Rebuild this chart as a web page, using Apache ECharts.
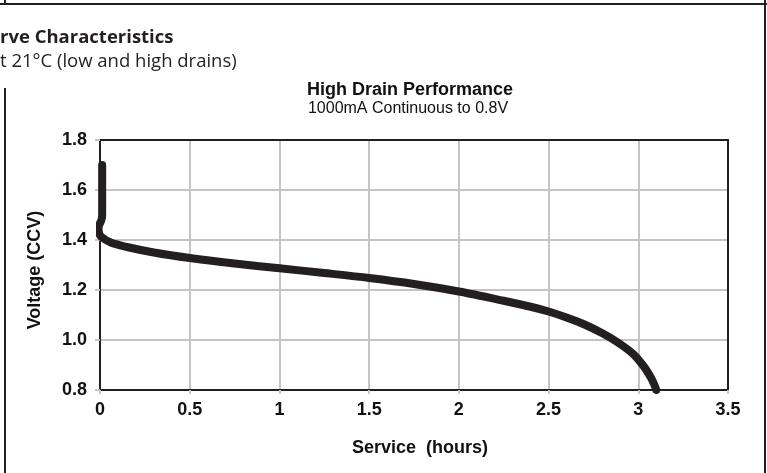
<!DOCTYPE html>
<html>
<head>
<meta charset="utf-8">
<script src="https://cdn.jsdelivr.net/npm/echarts@6/dist/echarts.min.js"></script>
<style>
html,body{margin:0;padding:0;background:#fff;}
#chart{width:767px;height:473px;}
</style>
</head>
<body>
<div id="chart"></div>
<script>
// ---- data ----
const pageHeading = 'rve Characteristics';
const pageSubheading = 't 21°C (low and high drains)';
const chartTitle = 'High Drain Performance';
const chartSubtitle = '1000mA Continuous to 0.8V';
const xAxisName = 'Service  (hours)';
const yAxisName = 'Voltage (CCV)';
const xTicks = [0, 0.5, 1, 1.5, 2, 2.5, 3, 3.5];
const yTicks = [0.8, 1.0, 1.2, 1.4, 1.6, 1.8];
const hours = [0.012, 0.012, 0.012, 0.008, -0.008, -0.006, 0.005, 0.06, 0.15, 0.3, 0.5, 0.75, 1.0, 1.25, 1.5, 1.75, 2.0, 2.25, 2.4, 2.5, 2.6, 2.7, 2.8, 2.88, 2.97, 3.03, 3.07, 3.09, 3.1];
const volts = [1.70, 1.60, 1.50, 1.48, 1.45, 1.43, 1.414, 1.39, 1.372, 1.35, 1.328, 1.306, 1.287, 1.268, 1.248, 1.224, 1.194, 1.157, 1.133, 1.114, 1.09, 1.062, 1.027, 0.993, 0.945, 0.895, 0.85, 0.82, 0.80];

const seriesData = hours.map((h, i) => [h, volts[i]]);
const ink = '#231f20';
const gridGray = '#c4c4c4';
const tickFmt = v => {
  const t = xTicks.find(x => Math.abs(x - v) < 1e-9);
  return t === undefined ? '' : String(t);
};
const yFmt = v => {
  const t = yTicks.find(x => Math.abs(x - v) < 1e-9);
  return t === undefined ? '' : t.toFixed(1);
};

const chart = echarts.init(document.getElementById('chart'), null, {renderer: 'canvas'});
chart.setOption({
  animation: false,
  backgroundColor: '#fff',
  grid: {left: 100, top: 140, right: 39, bottom: 83, containLabel: false},
  xAxis: [{
    type: 'value', min: xTicks[0], max: xTicks[xTicks.length - 1], interval: 0.5,
    axisLine: {show: true, onZero: false, lineStyle: {color: ink, width: 2}},
    axisTick: {show: true, length: 4, lineStyle: {color: gridGray, width: 2}},
    axisLabel: {margin: 11, color: '#111', fontFamily: 'Liberation Sans', fontWeight: 'bold', fontSize: 18, formatter: tickFmt},
    splitLine: {show: true, lineStyle: {color: gridGray, width: 2}}
  }, {
    type: 'value', position: 'top', min: xTicks[0], max: xTicks[xTicks.length - 1], interval: 0.5,
    axisLine: {show: true, onZero: false, lineStyle: {color: ink, width: 2}},
    axisTick: {show: false}, axisLabel: {show: false}, splitLine: {show: false}
  }],
  yAxis: [{
    type: 'value', min: yTicks[0], max: yTicks[yTicks.length - 1], interval: 0.2,
    axisLine: {show: true, onZero: false, lineStyle: {color: ink, width: 2}},
    axisTick: {show: true, length: 5, lineStyle: {color: gridGray, width: 2}},
    axisLabel: {margin: 13, color: '#111', fontFamily: 'Liberation Sans', fontWeight: 'bold', fontSize: 18, formatter: yFmt},
    splitLine: {show: true, lineStyle: {color: gridGray, width: 2}}
  }, {
    type: 'value', position: 'right', min: yTicks[0], max: yTicks[yTicks.length - 1], interval: 0.2,
    axisLine: {show: true, onZero: false, lineStyle: {color: ink, width: 2}},
    axisTick: {show: false}, axisLabel: {show: false}, splitLine: {show: false}
  }],
  series: [{
    type: 'line',
    data: seriesData,
    xAxisIndex: 0, yAxisIndex: 0,
    smooth: 0.3,
    showSymbol: false,
    clip: false,
    lineStyle: {color: ink, width: 8, cap: 'round', join: 'round'},
    z: 5
  }],
  graphic: [
    {type: 'line', shape: {x1: 0, y1: 4, x2: 767, y2: 4}, style: {stroke: ink, lineWidth: 2}},
    {type: 'line', shape: {x1: 5, y1: 0, x2: 5, y2: 4}, style: {stroke: ink, lineWidth: 2}},
    {type: 'line', shape: {x1: 5, y1: 88, x2: 5, y2: 473}, style: {stroke: ink, lineWidth: 2}},
    {type: 'line', shape: {x1: 765, y1: 0, x2: 765, y2: 473}, style: {stroke: ink, lineWidth: 2}},
    {type: 'text', x: 0, y: 38, style: {text: pageHeading, fill: ink, font: 'bold 18.5px "Open Sans"', verticalAlign: 'middle', align: 'left'}},
    {type: 'text', x: 0, y: 62, style: {text: pageSubheading, fill: ink, font: '18.5px "Open Sans"', verticalAlign: 'middle', align: 'left'}},
    {type: 'text', x: 410, y: 90, style: {text: chartTitle, fill: '#111', font: 'bold 18px "Liberation Sans"', verticalAlign: 'middle', align: 'center'}},
    {type: 'text', x: 408, y: 109, style: {text: chartSubtitle, fill: '#111', font: '16px "Liberation Sans"', verticalAlign: 'middle', align: 'center'}},
    {type: 'text', x: 420, y: 448, style: {text: xAxisName, fill: '#111', font: 'bold 18px "Liberation Sans"', verticalAlign: 'middle', align: 'center'}},
    {type: 'text', x: 35, y: 270, rotation: Math.PI / 2, style: {text: yAxisName, fill: '#111', font: 'bold 18px "Liberation Sans"', verticalAlign: 'middle', align: 'center'}}
  ]
});
</script>
</body>
</html>
